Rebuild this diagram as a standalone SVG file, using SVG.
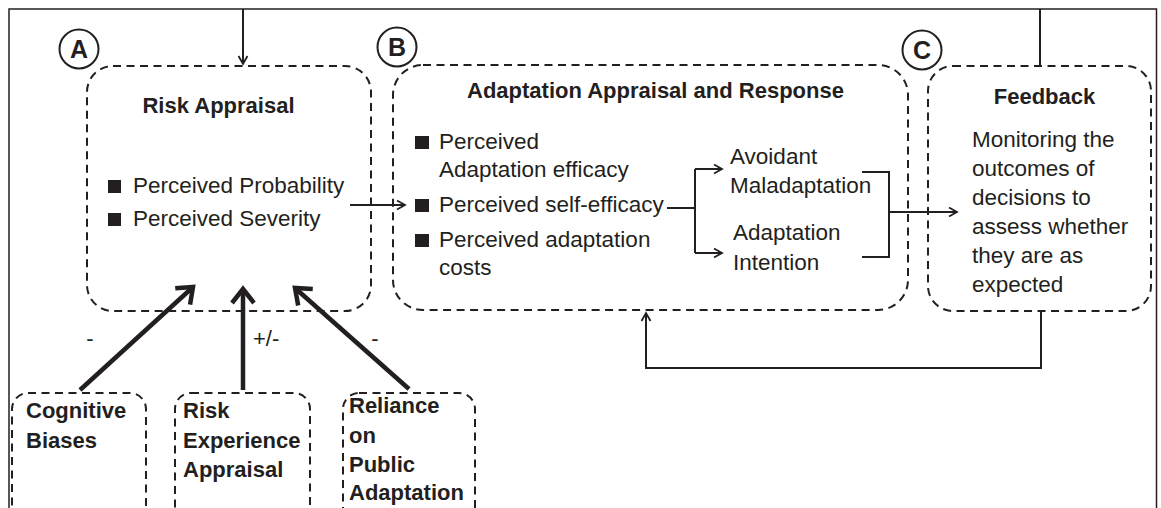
<svg xmlns="http://www.w3.org/2000/svg" width="1161" height="508" viewBox="0 0 1161 508">
<defs>
<style>
.frame{fill:none;stroke:#231f20;stroke-width:1.5}
.box{fill:none;stroke:#231f20;stroke-width:2;stroke-dasharray:8 5.5}
.circ{fill:none;stroke:#231f20;stroke-width:2}
.ln{fill:none;stroke:#231f20;stroke-width:2}
.thick{fill:none;stroke:#231f20;stroke-width:4.5}
.t{font-family:"Liberation Sans",Arial,sans-serif;font-size:22.5px;fill:#231f20}
.b{font-family:"Liberation Sans",Arial,sans-serif;font-size:22px;font-weight:bold;fill:#231f20}
.cl{font-family:"Liberation Sans",Arial,sans-serif;font-size:25px;font-weight:bold;fill:#231f20}
.lab{font-family:"Liberation Sans",Arial,sans-serif;font-size:22px;fill:#231f20}
.sq{fill:#231f20}
</style>
<marker id="ah" markerUnits="userSpaceOnUse" markerWidth="20" markerHeight="20" viewBox="-10 -10 20 20" refX="0" refY="0" orient="auto" overflow="visible">
<path d="M-8,-4.5 L0,0 L-8,4.5" fill="none" stroke="#231f20" stroke-width="1.8"/>
</marker>
<marker id="ahT" markerUnits="userSpaceOnUse" markerWidth="40" markerHeight="40" viewBox="-20 -20 40 40" refX="0" refY="0" orient="auto" overflow="visible">
<path d="M-14,-11 L0,0 L-14,11" fill="none" stroke="#231f20" stroke-width="4.5"/>
</marker>
</defs>

<path class="frame" d="M9,508 V9 H1156.5 V508"/>

<g id="nodeA">
<circle class="circ" cx="79" cy="49" r="19.5"/>
<text class="cl" x="79" y="58" text-anchor="middle">A</text>
<rect class="box" x="87" y="66" width="284" height="245" rx="26"/>
<text class="b" x="218.5" y="113" text-anchor="middle">Risk Appraisal</text>
<rect class="sq" x="108" y="180" width="13" height="13"/>
<text class="t" x="133" y="193">Perceived Probability</text>
<rect class="sq" x="108" y="213" width="13" height="13"/>
<text class="t" x="133" y="226">Perceived Severity</text>
</g>

<g id="nodeB">
<circle class="circ" cx="397" cy="47" r="19.5"/>
<text class="cl" x="397" y="56" text-anchor="middle">B</text>
<rect class="box" x="393" y="65" width="515" height="245" rx="30"/>
<text class="b" x="655.5" y="98" text-anchor="middle">Adaptation Appraisal and Response</text>
<rect class="sq" x="415" y="136" width="14" height="13"/>
<text class="t" x="439" y="149">Perceived</text>
<text class="t" x="439" y="177">Adaptation efficacy</text>
<rect class="sq" x="415" y="199" width="14" height="13"/>
<text class="t" x="439" y="212">Perceived self-efficacy</text>
<rect class="sq" x="415" y="234" width="14" height="13"/>
<text class="t" x="439" y="247">Perceived adaptation</text>
<text class="t" x="439" y="275">costs</text>
<text class="t" x="730" y="164">Avoidant</text>
<text class="t" x="730" y="193">Maladaptation</text>
<text class="t" x="733" y="240">Adaptation</text>
<text class="t" x="733" y="270">Intention</text>
</g>

<g id="nodeC">
<circle class="circ" cx="922" cy="50" r="19.5"/>
<text class="cl" x="922" y="59" text-anchor="middle">C</text>
<rect class="box" x="928" y="66" width="223" height="245" rx="25"/>
<text class="b" x="1044.5" y="104" text-anchor="middle">Feedback</text>
<text class="t" x="972" y="147">Monitoring the</text>
<text class="t" x="972" y="176">outcomes of</text>
<text class="t" x="972" y="205">decisions to</text>
<text class="t" x="972" y="234">assess whether</text>
<text class="t" x="972" y="263">they are as</text>
<text class="t" x="972" y="292">expected</text>
</g>

<g id="nodeCognitive">
<rect class="box" x="12" y="393" width="134" height="150" rx="16"/>
<text class="b" x="26" y="418">Cognitive</text>
<text class="b" x="26" y="448">Biases</text>
</g>

<g id="nodeRiskExperience">
<rect class="box" x="175" y="393" width="135" height="150" rx="16"/>
<text class="b" x="183" y="418">Risk</text>
<text class="b" x="183" y="448">Experience</text>
<text class="b" x="183" y="477">Appraisal</text>
</g>

<g id="nodeReliance">
<rect class="box" x="343" y="393" width="132" height="150" rx="16"/>
<text class="b" x="349" y="413">Reliance</text>
<text class="b" x="349" y="443">on</text>
<text class="b" x="349" y="472">Public</text>
<text class="b" x="349" y="500">Adaptation</text>
</g>

<g id="connectors">
<path class="ln" d="M243,9 V64" marker-end="url(#ah)"/>
<path class="ln" d="M350,205 H405" marker-end="url(#ah)"/>
<path class="ln" d="M667,208 H695"/>
<path class="ln" d="M695,169 V253"/>
<path class="ln" d="M695,169 H722" marker-end="url(#ah)"/>
<path class="ln" d="M695,253 H722" marker-end="url(#ah)"/>
<path class="ln" d="M862,172 H889 V257 H862"/>
<path class="ln" d="M889,212 H957" marker-end="url(#ah)"/>
<path class="ln" d="M1040,66 V9"/>
<path class="ln" d="M1041,311 V368 H646 V313" marker-end="url(#ah)"/>
<path class="thick" d="M80,390 L193,287" marker-end="url(#ahT)"/>
<path class="thick" d="M243,390 V289" marker-end="url(#ahT)"/>
<path class="thick" d="M409,389 L295,288" marker-end="url(#ahT)"/>
<text class="lab" x="90" y="346" text-anchor="middle">-</text>
<text class="lab" x="253" y="346">+/-</text>
<text class="lab" x="375" y="346" text-anchor="middle">-</text>
</g>
</svg>
